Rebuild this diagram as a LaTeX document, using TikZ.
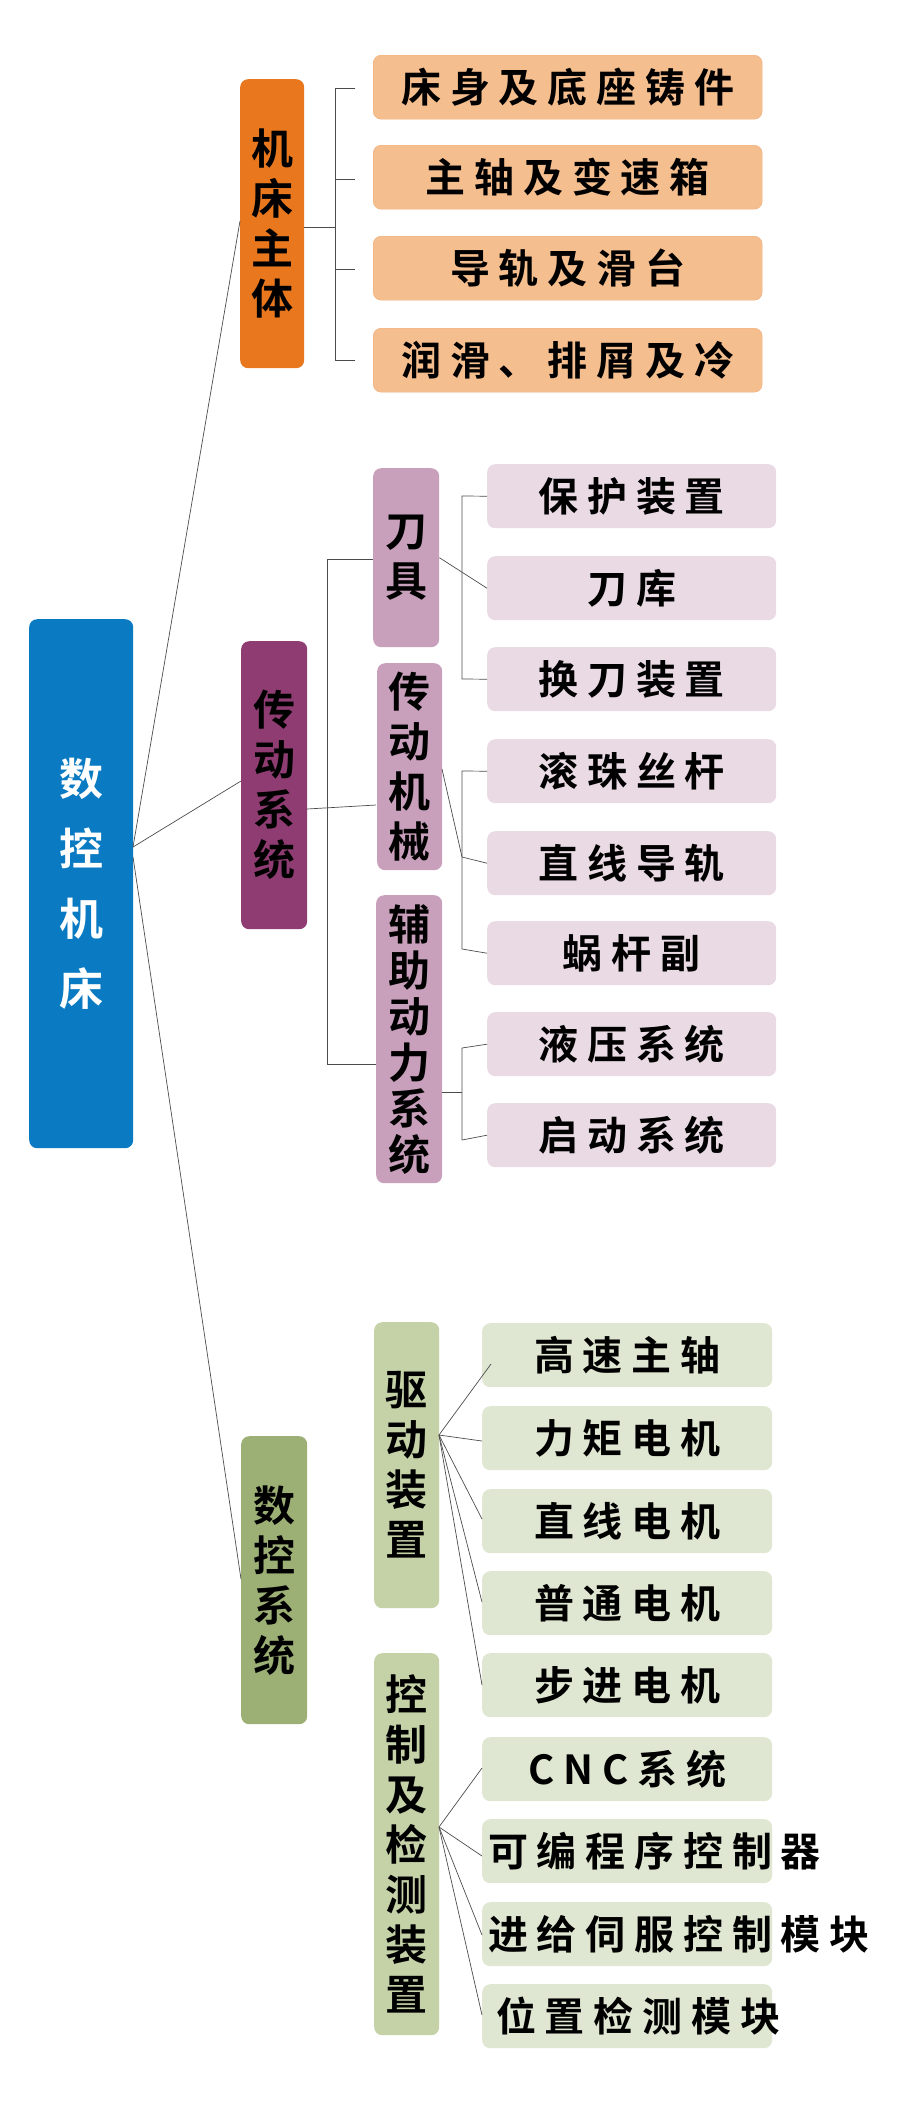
\documentclass[tikz,border=0pt]{standalone}
\usepackage{fontspec}
\setmainfont{Noto Sans CJK SC Bold}
\usetikzlibrary{positioning}

\definecolor{rootblue}{HTML}{0A7BC2}
\definecolor{bodyorange}{HTML}{E8771E}
\definecolor{leaforange}{HTML}{F5BE8E}
\definecolor{drivepink}{HTML}{8E3C72}
\definecolor{subpink}{HTML}{C9A0BC}
\definecolor{leafpink}{HTML}{E9DAE4}
\definecolor{ncgreen}{HTML}{9CAF74}
\definecolor{subgreen}{HTML}{C5D2A8}
\definecolor{leafgreen}{HTML}{DFE7D2}

\tikzset{
  box/.style={rounded corners=8pt, inner sep=0pt, align=center, anchor=north west},
  vbox/.style={box, font=\fontsize{42}{50}\selectfont},
  leaf/.style={box, font=\fontsize{40}{44}\selectfont\addfontfeature{LetterSpace=22}},
  longtext/.style={anchor=west, inner sep=0pt, font=\fontsize{40}{44}\selectfont\addfontfeature{LetterSpace=22}},
  wire/.style={draw=black!70, line width=0.7pt},
}

\begin{document}
\begin{tikzpicture}[x=1pt,y=-1pt]
  \useasboundingbox (0,0) rectangle (900,2110);

  % root
  \node[vbox, fill=rootblue, text=white, minimum width=104pt, minimum height=529pt,
        font=\fontsize{44}{70}\selectfont] (root) at (29,619) {数\\控\\机\\床};

  % 机床主体
  \node[vbox, fill=bodyorange, minimum width=64pt, minimum height=289pt] (body) at (240,79) {机\\床\\主\\体};
  \foreach \n/\y/\t in {b1/55/床身及底座铸件, b2/145/主轴及变速箱, b3/236/导轨及滑台, b4/328/润滑、排屑及冷}
    \node[leaf, fill=leaforange, draw=bodyorange!60, minimum width=389pt, minimum height=64pt] (\n) at (373,\y) {\t};
  \draw[wire] (body.east |- 0,227) -- (335,227);
  \draw[wire] (355,88) -- (335,88) -- (335,360) -- (355,360);
  \draw[wire] (335,179) -- (355,179);
  \draw[wire] (335,269) -- (355,269);

  % 传动系统
  \node[vbox, fill=drivepink, minimum width=66pt, minimum height=288pt] (drive) at (241,641) {传\\动\\系\\统};
  \node[vbox, fill=subpink, minimum width=66pt, minimum height=179pt] (tool) at (373,468) {刀\\具};
  \node[vbox, fill=subpink, minimum width=65pt, minimum height=207pt] (mech) at (377,663) {传\\动\\机\\械};
  \node[vbox, fill=subpink, minimum width=66pt, minimum height=288pt, font=\fontsize{42}{46}\selectfont] (aux) at (376,895) {辅\\助\\动\\力\\系\\统};
  \foreach \n/\y/\t in {p1/464/保护装置, p2/556/刀库, p3/647/换刀装置, p4/739/滚珠丝杆,
                        p5/831/直线导轨, p6/921/蜗杆副, p7/1012/液压系统, p8/1103/启动系统}
    \node[leaf, fill=leafpink, minimum width=289pt, minimum height=64pt] (\n) at (487,\y) {\t};
  \draw[wire] (307,809) -- (376,805);
  \draw[wire] (tool.west |- 0,559) -- (327,559) -- (327,1064) -- (aux.west |- 0,1064);
  \draw[wire] (tool.east) -- (p2.west);
  \draw[wire] (p1.west) -- (462,496) -- (462,679) -- (p3.west);
  \draw[wire] (442,769) -- (462,857);
  \draw[wire] (p4.west) -- (462,771) -- (462,949) -- (p6.west);
  \draw[wire] (462,857) -- (p5.west);
  \draw[wire] (442,1092) -- (462,1092);
  \draw[wire] (p7.west) -- (462,1048) -- (462,1140) -- (p8.west);

  % 数控系统
  \node[vbox, fill=ncgreen, minimum width=66pt, minimum height=288pt] (nc) at (241,1436) {数\\控\\系\\统};
  \node[vbox, fill=subgreen, minimum width=65pt, minimum height=286pt] (act) at (374,1322) {驱\\动\\装\\置};
  \node[vbox, fill=subgreen, minimum width=65pt, minimum height=382pt] (ctrl) at (374,1653) {控\\制\\及\\检\\测\\装\\置};
  \foreach \n/\y/\t in {g1/1323/高速主轴, g2/1406/力矩电机, g3/1489/直线电机, g4/1571/普通电机, g5/1653/步进电机, g6/1737/CNC系统}
    \node[leaf, fill=leafgreen, minimum width=290pt, minimum height=64pt] (\n) at (482,\y) {\t};
  \foreach \n/\y in {g7/1819, g8/1902, g9/1984}
    \node[box, fill=leafgreen, minimum width=290pt, minimum height=64pt] (\n) at (482,\y) {};
  \node[longtext] (g7t) at (488,1851) {可编程序控制器};
  \node[longtext] (g8t) at (488,1934) {进给伺服控制模块};
  \node[longtext] (g9t) at (496,2016) {位置检测模块};
  \coordinate (a0) at (439,1435);
  \coordinate (c0) at (439,1827);
  \foreach \y in {1441,1519,1602,1685} \draw[wire] (a0) -- (482,\y);
  \draw[wire] (a0) -- (491,1364);
  \foreach \y in {1768,1856,1935,2015} \draw[wire] (c0) -- (482,\y);

  % root links
  \draw[wire] (133,847) -- (body.west |- 0,221);
  \draw[wire] (133,847) -- (drive.west |- 0,781);
  \draw[wire] (133,857) -- (nc.west |- 0,1579);
\end{tikzpicture}
\end{document}
